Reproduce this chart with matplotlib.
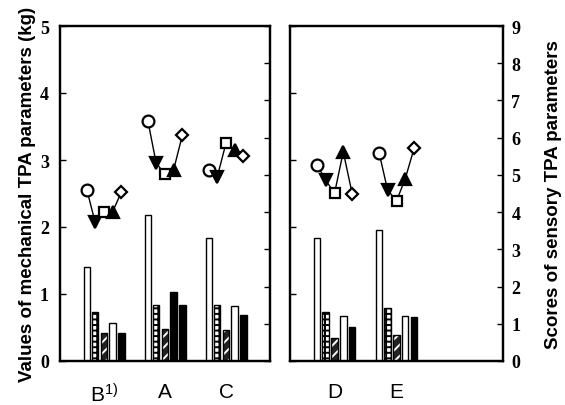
import numpy as np
import matplotlib
matplotlib.use('Agg')
import matplotlib.pyplot as plt
from matplotlib.font_manager import FontProperties

# mechanical TPA parameters (kg), five bars per sample
groups_left = ['B$^{1)}$', 'A', 'C']
groups_right = ['D', 'E']
mech_left = [
    [1.40, 0.73, 0.42, 0.57, 0.42],   # B
    [2.18, 0.84, 0.48, 1.03, 0.84],   # A
    [1.83, 0.84, 0.46, 0.82, 0.69],   # C
]
mech_right = [
    [1.83, 0.73, 0.34, 0.67, 0.51],   # D
    [1.96, 0.79, 0.39, 0.67, 0.66],   # E
]

# sensory TPA scores, five attributes per sample
sens_left = [
    [4.60, 3.73, 4.00, 4.00, 4.54],   # B
    [6.45, 5.32, 5.02, 5.13, 6.07],   # A
    [5.13, 4.94, 5.86, 5.67, 5.50],   # C
]
sens_right = [
    [5.27, 4.86, 4.51, 5.62, 4.49],   # D
    [5.59, 4.60, 4.30, 4.89, 5.72],   # E
]

plt.rcParams['hatch.linewidth'] = 1.4
plt.rcParams['mathtext.default'] = 'regular'

offsets = np.array([-0.28, -0.145, 0.0, 0.14, 0.285])
bar_w = 0.105
# (facecolor, hatch colour, hatch)
bar_styles = [
    ('white', 'black', None),
    ('white', 'black', '+++'),
    ('#222222', 'white', '///'),
    ('white', 'black', None),
    ('black', 'black', None),
]
mk = [
    dict(marker='o', mfc='white', ms=8.5),
    dict(marker='v', mfc='black', ms=8.5),
    dict(marker='s', mfc='white', ms=6.5),
    dict(marker='^', mfc='black', ms=8),
    dict(marker='D', mfc='white', ms=6.5),
]

fig = plt.figure(figsize=(5.65, 4.06), dpi=100)

serif = FontProperties(family='Liberation Serif', weight='bold', size=13)


def panel(rect, labels, mech, sens, left_labels, right_labels, dark=None):
    ax = fig.add_axes(rect)
    ax.set_xlim(0.28, 3.72)
    ax.set_ylim(0, 5)
    xs = np.arange(1, len(labels) + 1)
    for i, x in enumerate(xs):
        for j in range(5):
            fc, hc, hatch = bar_styles[j]
            if dark is not None and (i, j) in dark:
                fc, hc, hatch = 'black', 'black', None
            ax.bar(x + offsets[j], mech[i][j], width=bar_w, facecolor=fc,
                   edgecolor=hc, hatch=hatch, linewidth=0)
            ax.bar(x + offsets[j], mech[i][j], width=bar_w, fill=False,
                   edgecolor='black', linewidth=1.0)
    ax.set_xticks(xs)
    ax.set_xticklabels(labels, fontsize=15, family='Liberation Sans')
    ax.tick_params(axis='x', length=0, pad=15)
    ax.set_yticks(range(6))
    ax.tick_params(axis='y', direction='in', length=4, width=1,
                   labelleft=left_labels, pad=8)
    for lab in ax.get_yticklabels():
        lab.set_fontproperties(serif)
    for s in ax.spines.values():
        s.set_linewidth(1.6)

    ax2 = ax.twinx()
    ax2.set_ylim(0, 9)
    ax2.set_yticks(range(10))
    ax2.tick_params(axis='y', direction='in', length=4, width=1,
                    labelright=right_labels, pad=6)
    for lab in ax2.get_yticklabels():
        lab.set_fontproperties(serif)
    for i, x in enumerate(xs):
        ax2.plot(x + offsets, sens[i], color='black', lw=1.0, zorder=2)
        for j in range(5):
            ax2.plot(x + offsets[j], sens[i][j], color='black', mec='black',
                     mew=1.6, ls='none', zorder=3, **mk[j])
    for s in ax2.spines.values():
        s.set_linewidth(1.6)
    return ax, ax2


axL, axL2 = panel([60 / 565, 44 / 406, 210 / 565, 335 / 406], groups_left,
                  mech_left, sens_left, True, False, dark={(1, 3)})
axR, axR2 = panel([290 / 565, 44 / 406, 213 / 565, 335 / 406], groups_right,
                  mech_right, sens_right, False, True)

axL.set_ylabel('Values of mechanical TPA parameters (kg)', fontsize=13.5,
               fontweight='bold', family='Liberation Sans', labelpad=3)
axR2.set_ylabel('Scores of sensory TPA parameters', fontsize=13.5,
                fontweight='bold', family='Liberation Sans', labelpad=18)

fig.savefig('out.png', dpi=100)
